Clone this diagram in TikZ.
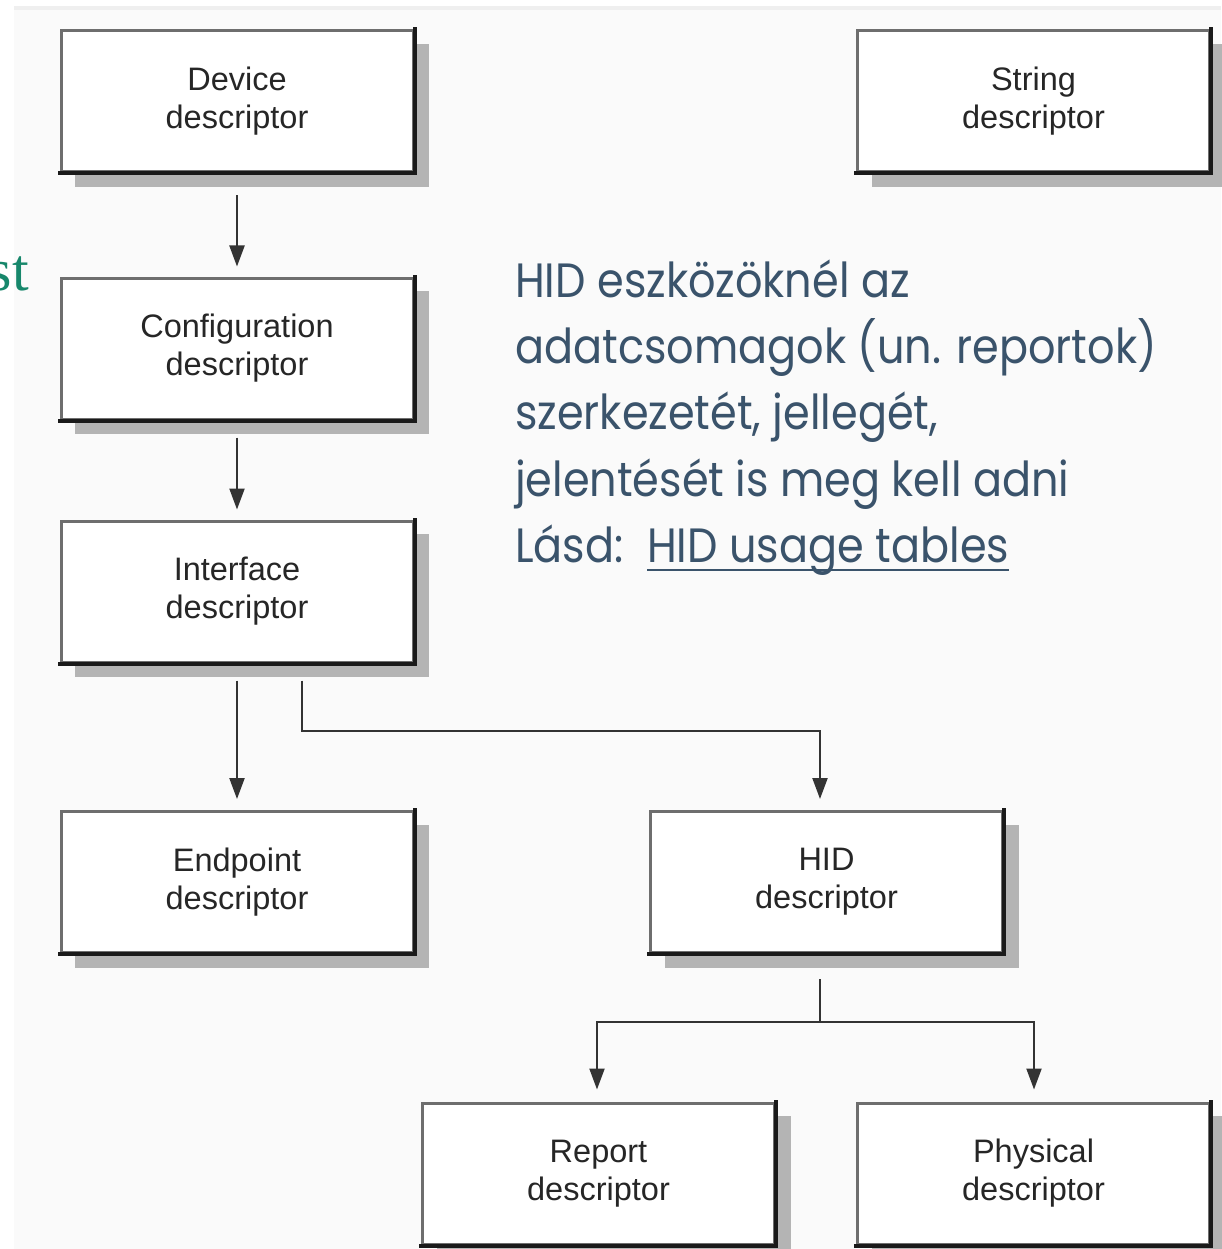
\documentclass[tikz,border=0pt]{standalone}
\usepackage{fontspec}
\usepackage{graphicx}
\setmainfont{Liberation Sans}
\newfontfamily\notefont{Poppins}
\newfontfamily\sidefont{Liberation Serif}
\usetikzlibrary{arrows.meta,calc}

\definecolor{pagebg}{HTML}{FAFAFA}
\definecolor{topband}{HTML}{EFEFEF}
\definecolor{shadowgray}{HTML}{B4B4B4}
\definecolor{edgelight}{HTML}{6E6E6E}
\definecolor{edgedark}{HTML}{1A1A1A}
\definecolor{linkcol}{HTML}{333333}
\definecolor{notecol}{HTML}{3A536B}
\definecolor{sidecol}{HTML}{17876B}

\tikzset{
  descbox/.style={draw=edgelight, line width=3pt, fill=white,
    minimum width=352pt, minimum height=141pt, inner sep=0pt,
    align=center, text=black!85, font=\fontsize{32.5}{38}\selectfont},
  shadowbox/.style={fill=shadowgray, minimum width=354pt, minimum height=143pt, inner sep=0pt},
  darkedge/.style={draw=edgedark, line width=4pt, line cap=rect},
  link/.style={draw=linkcol, line width=2.2pt, -{Triangle[length=21pt,width=15pt]}},
  plainlink/.style={draw=linkcol, line width=2.2pt},
  noteline/.style={anchor=base west, inner sep=0pt, text=notecol,
    font=\notefont\fontsize{43}{48}\selectfont},
}

% box: name, centre x, centre y, label
\newcommand\descbox[4]{%
  \node[shadowbox] (#1-sh) at (#2+15,#3+14) {};
  \node[descbox] (#1) at (#2,#3) {#4};
  \draw[darkedge] (#1.south west) -- (#1.south east) -- (#1.north east);
}
% taller glyphs for the note text
\newcommand\tall[1]{\scalebox{1}[1.12]{#1}}

\begin{document}
\begin{tikzpicture}[x=1pt,y=-1pt]
  \useasboundingbox (0,0) rectangle (1221,1249);
  \fill[white] (0,0) rectangle (1221,1249);
  \fill[pagebg] (14,6) rectangle (1221,1249);
  \fill[topband] (14,6) rectangle (1221,10);

  % word running in from the left margin
  \node[anchor=base east, inner sep=0pt, text=sidecol,
        font=\sidefont\fontsize{60}{64}\selectfont] (side) at (29,290) {st};

  \descbox{dev}{237}{101.5}{Device\\descriptor}
  \descbox{str}{1033.5}{101.5}{String\\descriptor}
  \descbox{cfg}{237}{348.5}{Configuration\\descriptor}
  \descbox{ifc}{237}{591.5}{Interface\\descriptor}
  \descbox{ept}{237}{882}{Endpoint\\descriptor}
  \descbox{hid}{826.5}{882}{HID\\descriptor}
  \descbox{rep}{598.5}{1173.5}{Report\\descriptor}
  \descbox{phy}{1033.5}{1173.5}{Physical\\descriptor}

  % descriptor hierarchy
  \draw[link] ($(dev.south)+(0,22)$) -- ($(cfg.north)+(0,-10)$);
  \draw[link] ($(cfg.south)+(0,17)$) -- ($(ifc.north)+(0,-10)$);
  \draw[link] ($(ifc.south)+(0,17)$) -- ($(ept.north)+(0,-11)$);
  \draw[link] ($(ifc.south)+(65,17)$) |- ($(hid.north)+(-6.5,-79)$)
              -- ($(hid.north)+(-6.5,-11)$);

  \coordinate (split) at ($(hid.south)+(-6.5,68)$);
  \draw[plainlink] ($(hid.south)+(-6.5,25)$) -- (split);
  \draw[link] (split) -| ($(rep.north)+(-1.5,-12)$);
  \draw[link] (split) -| ($(phy.north)+(0.5,-12)$);

  % note about HID reports
  \node[noteline] (n1) at (515,297) {\tall{HID eszközöknél az}};
  \node[noteline] (n2) at (515,363) {\tall{adatcsomagok (un. reportok)}};
  \node[noteline] (n3) at (515,429) {\tall{szerkezetét, jellegét,}};
  \node[noteline] (n4) at (515,496) {\tall{jelentését is meg kell adni}};
  \node[noteline] (n5) at (515,562) {\tall{Lásd:}};
  \node[noteline] (n6) at (647,562) {\tall{HID usage tables}};
  \draw[notecol, line width=2.5pt] ($(n6.base west)+(0,8)$) -- ($(n6.base east)+(0,8)$);
\end{tikzpicture}
\end{document}
